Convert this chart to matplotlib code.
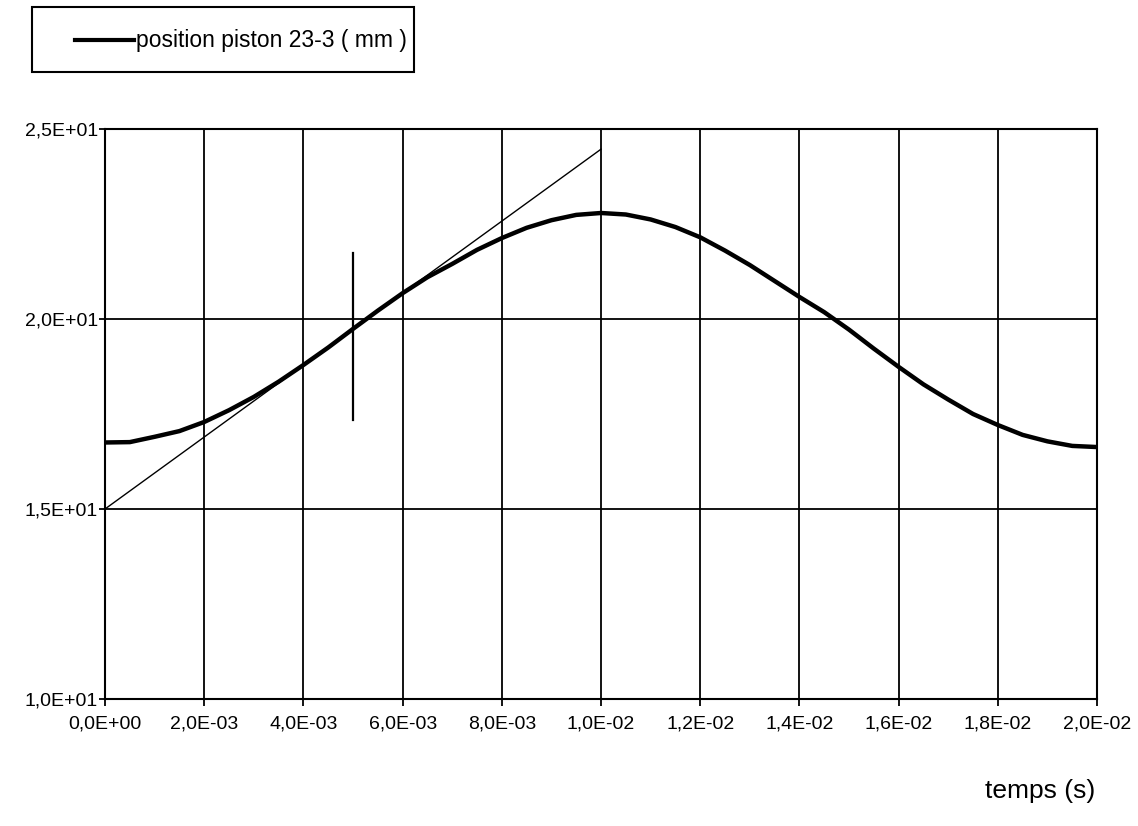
import matplotlib
matplotlib.use("Agg")
from matplotlib import pyplot as plt
from matplotlib.lines import Line2D
from matplotlib.patches import Rectangle

# temps (s) et position du piston (mm)
temps = [0.0, 0.0005, 0.001, 0.0015, 0.002, 0.0025, 0.003, 0.0035, 0.004, 0.0045,
         0.005, 0.0055, 0.006, 0.0065, 0.007, 0.0075, 0.008, 0.0085, 0.009, 0.0095,
         0.010, 0.0105, 0.011, 0.0115, 0.012, 0.0125, 0.013, 0.0135, 0.014, 0.0145,
         0.015, 0.0155, 0.016, 0.0165, 0.017, 0.0175, 0.018, 0.0185, 0.019, 0.0195, 0.020]
position = [16.75, 16.76, 16.9, 17.05, 17.29, 17.6, 17.95, 18.35, 18.79, 19.25,
            19.74, 20.22, 20.68, 21.1, 21.45, 21.82, 22.13, 22.4, 22.6, 22.74,
            22.79, 22.75, 22.62, 22.42, 22.15, 21.8, 21.42, 21.0, 20.58, 20.18,
            19.72, 19.22, 18.74, 18.28, 17.88, 17.5, 17.21, 16.95, 16.78, 16.66, 16.63]

# tangente au point d'inflexion
tangente_x = [0.0, 0.010]
tangente_y = [15.0, 24.47]

# repère vertical à t = 5 ms
repere_x = [0.005, 0.005]
repere_y = [17.34, 21.74]

xticks = [0.0, 0.002, 0.004, 0.006, 0.008, 0.010, 0.012, 0.014, 0.016, 0.018, 0.020]
xlabels = ["0,0E+00", "2,0E-03", "4,0E-03", "6,0E-03", "8,0E-03", "1,0E-02",
           "1,2E-02", "1,4E-02", "1,6E-02", "1,8E-02", "2,0E-02"]
yticks = [10, 15, 20, 25]
ylabels = ["1,0E+01", "1,5E+01", "2,0E+01", "2,5E+01"]

plt.rcParams['font.family'] = ['Liberation Sans', 'DejaVu Sans']

W, H = 1138, 826
fig = plt.figure(figsize=(W / 100, H / 100), dpi=100)
ax = fig.add_axes([0.0923, 0.1538, 0.8717, 0.69])

ax.plot(temps, position, color='black', linewidth=3.2, solid_capstyle='butt', zorder=3)
ax.plot(tangente_x, tangente_y, color='black', linewidth=1.0, zorder=2)
ax.plot(repere_x, repere_y, color='black', linewidth=1.6, zorder=2)

ax.set_xlim(0, 0.02)
ax.set_ylim(10, 25)
ax.set_xticks(xticks)
ax.set_xticklabels(xlabels, fontsize=14)
ax.set_yticks(yticks)
ax.set_yticklabels(ylabels, fontsize=14)
ax.tick_params(axis='x', direction='out', length=5, width=1.3, pad=7)
ax.tick_params(axis='y', direction='out', length=4, width=1.3, pad=1)

# grille
ax.grid(True, color='black', linewidth=1.3)
ax.set_axisbelow(True)
for s in ax.spines.values():
    s.set_linewidth(1.5)

fig.text(0.962, 0.028, "temps (s)", fontsize=19, ha='right', va='bottom')

# légende dessinée à la main (cadre, trait, texte)
fig.patches.append(Rectangle((32 / W, 1 - 72 / H), (414 - 32) / W, 65 / H,
                             transform=fig.transFigure, facecolor='white',
                             edgecolor='black', linewidth=1.5))
fig.lines.append(Line2D([75 / W, 134 / W], [1 - 40 / H, 1 - 40 / H],
                        transform=fig.transFigure, color='black', linewidth=3))
fig.text(136 / W, 1 - 40 / H, "position piston 23-3 ( mm )", fontsize=16.5,
         ha='left', va='center')

fig.savefig("out.png", dpi=100)
